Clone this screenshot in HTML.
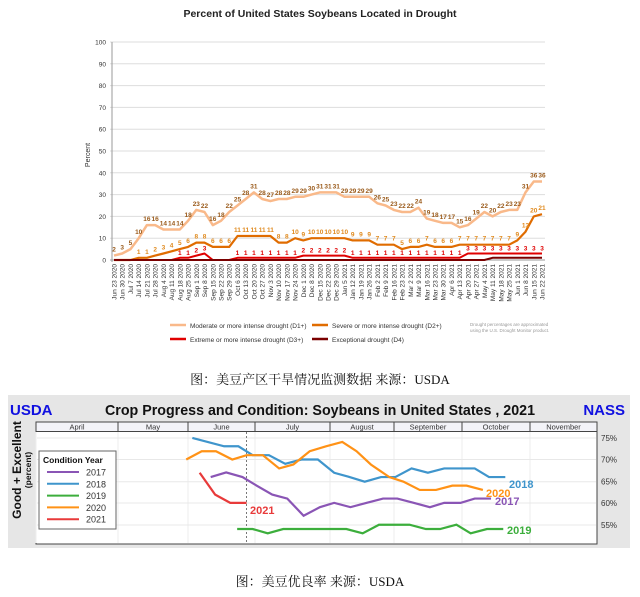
<!DOCTYPE html>
<html><head><meta charset="utf-8"><style>
html,body{margin:0;padding:0;background:#fff;}
svg{display:block;font-family:"Liberation Sans",sans-serif;}
</style></head><body>
<svg id="s" width="640" height="597" viewBox="0 0 640 597" xmlns="http://www.w3.org/2000/svg">
<text x="320" y="17" text-anchor="middle" font-size="10.5" font-weight="bold" fill="#222">Percent of United States Soybeans Located in Drought</text>
<g id="topc"></g>
<text transform="translate(90,155) rotate(-90)" text-anchor="middle" font-size="7" fill="#333">Percent</text>
<line x1="170" y1="325" x2="186" y2="325" stroke="#f9b98a" stroke-width="2.5"/>
<text x="190" y="328" font-size="6.5" fill="#333">Moderate or more intense drought (D1+)</text>
<line x1="312" y1="325" x2="328" y2="325" stroke="#e06c00" stroke-width="2.5"/>
<text x="332" y="328" font-size="6.5" fill="#333">Severe or more intense drought (D2+)</text>
<line x1="170" y1="339" x2="186" y2="339" stroke="#e00000" stroke-width="2.5"/>
<text x="190" y="342" font-size="6.5" fill="#333">Extreme or more intense drought (D3+)</text>
<line x1="312" y1="339" x2="328" y2="339" stroke="#7a0000" stroke-width="2.5"/>
<text x="332" y="342" font-size="6.5" fill="#333">Exceptional drought (D4)</text>
<text x="470" y="326" font-size="4.5" fill="#999">Drought percentages are approximated</text>
<text x="470" y="332" font-size="4.5" fill="#999">using the U.S. Drought Monitor product.</text>
<text x="320" y="384" text-anchor="middle" font-size="13" fill="#111" font-family="Liberation Serif,'Noto Serif CJK SC',serif">图：美豆产区干旱情况监测数据  来源：USDA</text>

<rect x="8" y="395" width="622" height="153" fill="#e6e6e6"/>
<text x="10" y="415" font-size="15" font-weight="bold" fill="#1010e0">USDA</text>
<text x="625" y="415" text-anchor="end" font-size="15" font-weight="bold" fill="#1010e0">NASS</text>
<text x="320" y="415" text-anchor="middle" font-size="15" font-weight="bold" fill="#111" textLength="430" lengthAdjust="spacingAndGlyphs">Crop Progress and Condition: Soybeans in United States , 2021</text>
<rect x="36" y="422" width="561" height="122" fill="#fff" stroke="#444" stroke-width="1"/>
<rect x="36" y="422" width="561" height="9.5" fill="#f3f3f8" stroke="#444" stroke-width="1"/>
<g id="bot"></g>
<text transform="translate(21,470) rotate(-90)" text-anchor="middle" font-size="12" font-weight="bold" fill="#111">Good + Excellent</text>
<text transform="translate(31,470) rotate(-90)" text-anchor="middle" font-size="8.5" font-weight="bold" fill="#111">(percent)</text>
<text x="320" y="586" text-anchor="middle" font-size="13" fill="#111" font-family="Liberation Serif,'Noto Serif CJK SC',serif">图：美豆优良率  来源：USDA</text>
</svg>
<script>
(function(){
var NS="http://www.w3.org/2000/svg";
function el(p,t,a,txt){var e=document.createElementNS(NS,t);for(var k in a)e.setAttribute(k,a[k]);if(txt!==undefined)e.textContent=txt;p.appendChild(e);return e;}
var tg=document.getElementById("topc");
var X0=114,X1=542,Y0=260,K=2.18;
for(var v=0;v<=100;v+=10){var y=Y0-v*K;el(tg,"line",{x1:110,x2:545,y1:y,y2:y,stroke:v?"#ddd":"#999","stroke-width":1});
el(tg,"text",{x:106,y:y+2.5,"text-anchor":"end","font-size":"6.5",fill:"#333"},v);}
el(tg,"line",{x1:112,x2:112,y1:42,y2:262,stroke:"#999"});
var d1=[2,3,5,10,16,16,14,14,14,18,23,22,16,18,22,25,28,31,28,27,28,28,29,29,30,31,31,31,29,29,29,29,26,25,23,22,22,24,19,18,17,17,15,16,19,22,20,22,23,23,31,36,36];
var d2=[0,0,0,1,1,2,3,4,5,6,8,8,6,6,6,11,11,11,11,11,8,8,10,9,10,10,10,10,10,9,9,9,7,7,7,5,6,6,7,6,6,6,7,7,7,7,7,7,7,9,13,20,21];
var d3=[0,0,0,0,0,0,0,0,1,1,2,3,0,0,0,1,1,1,1,1,1,1,1,2,2,2,2,2,2,1,1,1,1,1,1,1,1,1,1,1,1,1,1,3,3,3,3,3,3,3,3,3,3];
var d4=[];for(var i=0;i<53;i++)d4.push(i>45?1:0);
var st=(X1-X0)/52;
function px(i){return X0+i*st;}
function line(d,c,w){var p=d.map(function(v,i){return px(i).toFixed(1)+","+(Y0-v*K).toFixed(1)}).join(" ");el(tg,"polyline",{points:p,fill:"none",stroke:c,"stroke-width":w,"stroke-linejoin":"round"});}
line(d1,"#f9b98a",2.5);line(d2,"#e06c00",2.2);line(d3,"#e00000",2);line(d4,"#7a0000",2);
d1.forEach(function(v,i){el(tg,"text",{x:px(i),y:Y0-v*K-4,"text-anchor":"middle","font-size":"6.5","font-weight":"bold",fill:"#9a5a1a"},v)});
d2.forEach(function(v,i){if(i>2)el(tg,"text",{x:px(i),y:Y0-v*K-4,"text-anchor":"middle","font-size":"6.5","font-weight":"bold",fill:"#e08a1e"},v)});
d3.forEach(function(v,i){if(v>0)el(tg,"text",{x:px(i),y:Y0-v*K-3,"text-anchor":"middle","font-size":"6.5","font-weight":"bold",fill:"#e00000"},v)});
var mons=["Jan","Feb","Mar","Apr","May","Jun","Jul","Aug","Sep","Oct","Nov","Dec"];
var dt=new Date(2020,5,23,12);
for(var i=0;i<53;i++){var d=new Date(dt.getTime()+i*7*86400000);
var s=mons[d.getMonth()]+" "+d.getDate()+" "+d.getFullYear();
el(tg,"text",{transform:"translate("+(px(i)+2.5)+",264) rotate(-90)","text-anchor":"end","font-size":"6.5",fill:"#333"},s);}

var bot=document.getElementById("bot");
var mx=[36,118,188,255,330,394,462,530,597],mn=["April","May","June","July","August","September","October","November"];
for(var i=0;i<8;i++){el(bot,"text",{x:(mx[i]+mx[i+1])/2,y:429.5,"text-anchor":"middle","font-size":"7.5",fill:"#333"},mn[i]);
if(i>0)el(bot,"line",{x1:mx[i],x2:mx[i],y1:422,y2:431.5,stroke:"#444"});
el(bot,"line",{x1:mx[i],x2:mx[i],y1:432,y2:543,stroke:"#eee"});}
[438,459.5,481.7,503,525].forEach(function(y,j){el(bot,"line",{x1:37,x2:596,y1:y,y2:y,stroke:"#e8e8e8"});
el(bot,"text",{x:601,y:y+3,"font-size":"8",fill:"#333"},(75-5*j)+"%");});
el(bot,"line",{x1:246.5,x2:246.5,y1:432,y2:544,stroke:"#777","stroke-dasharray":"2,2"});
var g=el(bot,"g",{transform:"translate(0,390) scale(0.4075,0.331)"});
function pl(a,c){el(g,"polyline",{points:a.join(" "),fill:"none",stroke:c,"stroke-width":2.2,"vector-effect":"non-scaling-stroke"});}
pl(["472,145","550,170","585,170","620,197","660,197","700,223","740,210","780,210","820,250","855,262","895,277","935,263","970,263","1010,237","1050,250","1090,237","1125,237","1165,237","1200,263","1240,263"],"#3f95cc");
pl(["457,210","495,185","530,185","570,210","605,197","645,197","685,237","720,225","760,185","800,170","840,157","875,185","910,225","955,263","990,277","1030,302","1070,302","1110,289","1145,289","1185,302"],"#ff9216");
pl(["517,263","555,249","595,263","630,289","668,316","705,328","745,380","785,354","820,341","860,354","900,341","940,328","975,328","1015,341","1055,354","1090,341","1130,341","1165,328","1205,328"],"#8a55b5");
pl(["582,420","620,420","657,433","695,420","735,420","775,420","815,420","850,420","890,433","930,407","970,407","1005,407","1045,420","1080,420","1120,407","1155,433","1195,420","1235,420"],"#3cae3c");
pl(["490,250","528,316","565,341","605,341"],"#e83a3a");
function T(x,y,c,t){el(bot,"text",{x:x,y:y,"font-size":"11","font-weight":"bold",fill:c},t);}
T(509,488,"#3f95cc","2018");T(486,497,"#ff9216","2020");T(495,505,"#8a55b5","2017");T(507,534,"#3cae3c","2019");T(250,514,"#e83a3a","2021");
el(bot,"rect",{x:39,y:451,width:77,height:78,fill:"#fff",stroke:"#666"});
el(bot,"text",{x:43,y:463,"font-size":"8.5","font-weight":"bold",fill:"#111"},"Condition Year");
var lc=[["2017","#8a55b5"],["2018","#3f95cc"],["2019","#3cae3c"],["2020","#ff9216"],["2021","#e83a3a"]];
lc.forEach(function(a,j){var y=472+j*11.8;el(bot,"line",{x1:47,x2:79,y1:y,y2:y,stroke:a[1],"stroke-width":2});
el(bot,"text",{x:86,y:y+3.5,"font-size":"9",fill:"#333"},a[0]);});
})();
</script>
</body></html>
